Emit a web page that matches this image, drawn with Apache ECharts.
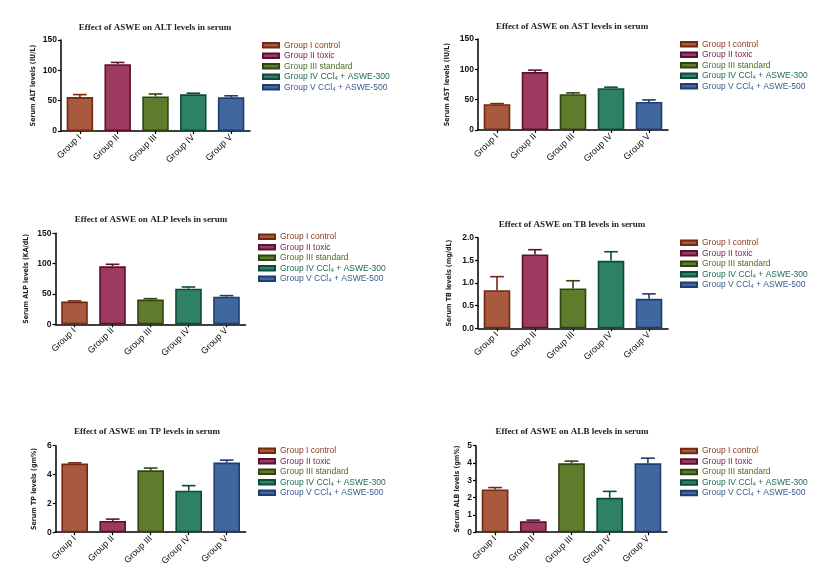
<!DOCTYPE html>
<html>
<head>
<meta charset="utf-8">
<script src="https://cdn.jsdelivr.net/npm/echarts@6/dist/echarts.min.js"></script>
<style>
html,body{margin:0;padding:0;background:#fff;}
#c{width:836px;height:568px;}
</style>
</head>
<body>
<div id="c"></div>
<script>
// ---- data ----
const categories = ['Group I', 'Group II', 'Group III', 'Group IV', 'Group V'];
const groupNames = ['Group I control', 'Group II toxic', 'Group III standard', 'Group IV CCl\u2084 + ASWE-300', 'Group V CCl\u2084 + ASWE-500'];

const altMean = [56, 110, 57, 60.5, 55.5];
const altSem  = [4, 3, 4, 1.8, 2.5];
const astMean = [42.5, 95.4, 59, 69, 46.3];
const astSem  = [1, 3.3, 2.2, 1.6, 3.3];
const alpMean = [37.4, 95.6, 40.7, 58.8, 45.6];
const alpSem  = [1.1, 3.3, 1.6, 2.7, 1.7];
const tbMean  = [0.84, 1.63, 0.88, 1.49, 0.65];
const tbSem   = [0.30, 0.105, 0.17, 0.20, 0.11];
const tpMean  = [4.76, 0.78, 4.29, 2.88, 4.83];
const tpSem   = [0.05, 0.13, 0.16, 0.35, 0.17];
const albMean = [2.47, 0.63, 3.98, 1.99, 3.98];
const albSem  = [0.11, 0.07, 0.13, 0.37, 0.30];

const titles = [
  'Effect of ASWE on ALT levels in serum',
  'Effect of ASWE on AST levels in serum',
  'Effect of ASWE on ALP levels in serum',
  'Effect of ASWE on TB levels in serum',
  'Effect of ASWE on TP levels in serum',
  'Effect of ASWE on ALB levels in serum'
];
const yNames = [
  'Serum ALT levels (IU/L)',
  'Serum AST levels (IU/L)',
  'Serum ALP levels (KA/dL)',
  'Serum TB levels (mg/dL)',
  'Serum TP levels (gm%)',
  'Serum ALB levels (gm%)'
];
const yMax = [150, 150, 150, 2.0, 6, 5];
const yInterval = [50, 50, 50, 0.5, 2, 1];
const yDecimals = [0, 0, 0, 1, 0, 0];

// ---- styles / layout ----
const fills   = ['#A75A3D', '#9C3A5F', '#5F7B2C', '#2E8067', '#4167A0'];
const borders = ['#74280F', '#5A1233', '#2E4512', '#0F4B39', '#1F3D6E'];
const textCols = ['#8A3A1E', '#7A2450', '#4E6A22', '#1F6A55', '#3A5A8E'];

const panels = [
  {means: altMean, sems: altSem, grid: {left: 61, top: 40, width: 189, height: 91}, nameGap: 24, title: [155, 28], legend: [262, 40]},
  {means: astMean, sems: astSem, grid: {left: 478, top: 39, width: 190, height: 91}, nameGap: 27, title: [572, 27], legend: [680, 39]},
  {means: alpMean, sems: alpSem, grid: {left: 55.5, top: 233.3, width: 190, height: 91}, nameGap: 26, title: [151, 220], legend: [258, 231.5]},
  {means: tbMean, sems: tbSem, grid: {left: 478, top: 237.7, width: 190, height: 90.6}, nameGap: 25, title: [572, 225], legend: [680, 237.5]},
  {means: tpMean, sems: tpSem, grid: {left: 55.7, top: 445.7, width: 190, height: 90.3}, nameGap: 18, title: [147, 432], legend: [258, 445.5]},
  {means: albMean, sems: albSem, grid: {left: 476, top: 445.7, width: 191, height: 90.3}, nameGap: 15, title: [572, 432], legend: [680, 445.7]}
];

const grids = [], xAxes = [], yAxes = [], series = [], legends = [], graphics = [];

panels.forEach((p, k) => {
  grids.push(Object.assign({containLabel: false}, p.grid));
  xAxes.push({
    type: 'category', gridIndex: k, data: categories,
    axisLine: {lineStyle: {color: '#000', width: 1.5}},
    axisTick: {show: true, alignWithLabel: true, length: 3, lineStyle: {color: '#000', width: 1.2}},
    axisLabel: {rotate: 45, fontSize: 9, color: '#111', margin: 5, fontFamily: 'Liberation Sans, Arial, sans-serif', interval: 0}
  });
  yAxes.push({
    type: 'value', gridIndex: k, min: 0, max: yMax[k], interval: yInterval[k],
    name: yNames[k], nameLocation: 'middle', nameGap: p.nameGap, nameRotate: 90,
    nameTextStyle: {fontSize: 7, fontWeight: 'bold', color: '#222', fontFamily: 'Liberation Sans Narrow, DejaVu Sans Condensed, sans-serif'},
    axisLine: {show: true, lineStyle: {color: '#000', width: 1.5}},
    axisTick: {show: true, length: 3, lineStyle: {color: '#000', width: 1.2}},
    splitLine: {show: false},
    axisLabel: {fontSize: 8.5, fontWeight: 'bold', color: '#111', margin: 4, fontFamily: 'Liberation Sans, Arial, sans-serif',
      formatter: v => v.toFixed(yDecimals[k])}
  });
  categories.forEach((c, i) => {
    series.push({
      type: 'bar', name: groupNames[i], xAxisIndex: k, yAxisIndex: k,
      barWidth: '70%', barGap: '-100%',
      itemStyle: {color: fills[i], borderColor: borders[i], borderWidth: 1.6},
      data: p.means.map((v, j) => j === i ? v : '-'),
      silent: true
    });
  });
  series.push({
    type: 'custom', name: 'err' + k, xAxisIndex: k, yAxisIndex: k, z: 5, silent: true,
    encode: {x: 0, y: [1, 2]},
    data: p.means.map((m, j) => [j, m, m + p.sems[j]]),
    renderItem: function (params, api) {
      const x = api.value(0);
      const p0 = api.coord([x, api.value(1)]);
      const p1 = api.coord([x, api.value(2)]);
      const hw = api.size([1, 0])[0] * 0.18;
      const c = borders[x];
      return {type: 'group', children: [
        {type: 'line', shape: {x1: p0[0], y1: p0[1], x2: p1[0], y2: p1[1]}, style: {stroke: c, lineWidth: 1.6}},
        {type: 'line', shape: {x1: p1[0] - hw, y1: p1[1], x2: p1[0] + hw, y2: p1[1]}, style: {stroke: c, lineWidth: 1.6}}
      ]};
    }
  });
  legends.push({
    orient: 'vertical', left: p.legend[0], top: p.legend[1], padding: 0,
    itemWidth: 16, itemHeight: 4.5, itemGap: 0,
    selectedMode: false,
    textStyle: {fontSize: 8.5, lineHeight: 10.5, fontFamily: 'Liberation Sans, Arial, sans-serif'},
    data: groupNames.map((n, i) => ({name: n, icon: 'rect', textStyle: {color: textCols[i]}}))
  });
  graphics.push({
    type: 'text', x: p.title[0], y: p.title[1],
    style: {text: titles[k], textAlign: 'center', textVerticalAlign: 'middle', fill: '#222',
      font: 'bold 9px "Liberation Serif", "Times New Roman", serif'}
  });
});

const chart = echarts.init(document.getElementById('c'), null, {renderer: 'canvas'});
chart.setOption({
  animation: false,
  backgroundColor: '#fff',
  grid: grids, xAxis: xAxes, yAxis: yAxes, series: series, legend: legends,
  graphic: graphics
});
</script>
</body>
</html>
